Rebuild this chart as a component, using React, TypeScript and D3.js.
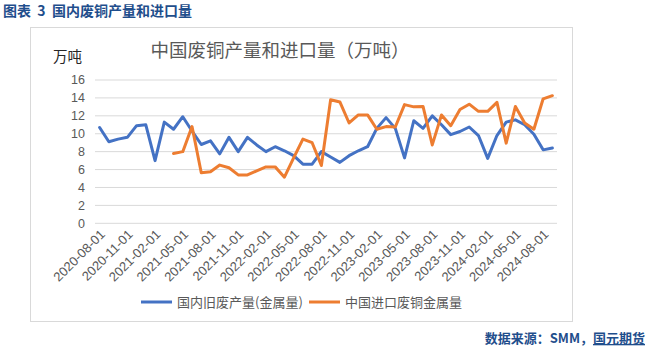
import React from "react";
import * as d3 from "d3";

const categories: string[] = (() => {
  const out: string[] = [];
  for (let i = 0; i < 50; i++) {
    const m = 7 + i; // 2020-08 start (0-based month 7)
    const y = 2020 + Math.floor(m / 12);
    const mm = (m % 12) + 1;
    out.push(`${y}-${String(mm).padStart(2, "0")}-01`);
  }
  return out;
})();

const domesticScrap: (number | null)[] = [
  10.7, 9.1, 9.4, 9.6, 10.9, 11.0, 7.0, 11.3, 10.5, 11.9,
  10.3, 8.8, 9.2, 7.75, 9.6, 8.0, 9.6, 8.75, 8.0, 8.55,
  8.1, 7.55, 6.6, 6.6, 8.0, 7.4, 6.8, 7.55, 8.1, 8.55,
  10.6, 11.8, 10.6, 7.3, 11.45, 10.6, 12.0, 11.0, 9.9, 10.25,
  10.75, 9.8, 7.25, 9.8, 11.3, 11.55, 11.0, 9.95, 8.2, 8.4,
];

const importedScrap: (number | null)[] = [
  null, null, null, null, null, null, null, null, 7.8, 8.0,
  10.8, 5.65, 5.75, 6.5, 6.2, 5.4, 5.4, 5.85, 6.3, 6.3,
  5.15, 7.3, 9.4, 9.0, 6.45, 13.8, 13.55, 11.2, 12.1, 12.1,
  10.5, 10.8, 10.75, 13.25, 13.0, 13.05, 8.75, 12.1, 10.9, 12.7,
  13.3, 12.5, 12.5, 13.5, 8.95, 13.05, 11.2, 10.5, 13.9, 14.25,
];

const yTicks = [0, 2, 4, 6, 8, 10, 12, 14, 16];
const seriesNames = ["国内旧废产量(金属量)", "中国进口废铜金属量"];
const seriesColors = ["#4472C4", "#ED7D31"];

const W = 648;
const H = 352;
const plotLeft = 95;
const plotRight = 557;
const plotTop = 80;
const plotBottom = 223.3;

export default function App() {
  const x = d3
    .scaleBand<string>()
    .domain(categories)
    .range([plotLeft, plotRight]);
  const y = d3.scaleLinear().domain([0, 16]).range([plotBottom, plotTop]);
  const cx = (c: string) => (x(c) ?? 0) + x.bandwidth() / 2;

  const line = d3
    .line<number | null>()
    .defined((d) => d != null)
    .x((_, i) => cx(categories[i]))
    .y((d) => y(d as number));

  const cjk = "'Noto Sans CJK SC', 'Noto Sans', sans-serif";
  const labelIdx = categories.map((_, i) => i).filter((i) => i % 3 === 0);

  return (
    <svg
      width={W}
      height={H}
      style={{ position: "absolute", left: 0, top: 0, background: "#fff" }}
    >
      {/* page title */}
      <text
        x={3}
        y={16}
        fontFamily={cjk}
        fontSize={14}
        fontWeight={700}
        fill="#1F4E8C"
        style={{ whiteSpace: "pre" }}
      >
        {"图表  3  国内废铜产量和进口量"}
      </text>

      {/* chart frame */}
      <rect
        x={30.5}
        y={27.5}
        width={542}
        height={294}
        fill="none"
        stroke="#D9D9D9"
        strokeWidth={1}
      />

      {/* chart title */}
      <text
        x={280}
        y={57}
        textAnchor="middle"
        fontFamily={cjk}
        fontSize={18.5}
        fill="#595959"
      >
        中国废铜产量和进口量（万吨）
      </text>

      {/* unit */}
      <text x={53} y={62} fontFamily={cjk} fontSize={14.5} fill="#262626">
        万吨
      </text>

      {/* gridlines + y labels */}
      {yTicks.map((t) => (
        <g key={t}>
          <line
            x1={plotLeft}
            x2={plotRight}
            y1={y(t)}
            y2={y(t)}
            stroke="#D9D9D9"
            strokeWidth={1}
          />
          <text
            x={85}
            y={y(t)}
            dy="0.35em"
            textAnchor="end"
            fontFamily="'Liberation Sans', Arial, sans-serif"
            fontSize={12.5}
            fill="#595959"
          >
            {t}
          </text>
        </g>
      ))}

      {/* x labels */}
      {labelIdx.map((i) => {
        const px = cx(categories[i]) + 3;
        const py = 232;
        return (
          <text
            key={i}
            transform={`translate(${px},${py}) rotate(-45)`}
            textAnchor="end"
            dy="0.35em"
            fontFamily="'Liberation Sans', Arial, sans-serif"
            fontSize={13}
            fill="#595959"
          >
            {categories[i]}
          </text>
        );
      })}

      {/* series */}
      {[domesticScrap, importedScrap].map((s, k) => (
        <path
          key={k}
          d={line(s) ?? ""}
          fill="none"
          stroke={seriesColors[k]}
          strokeWidth={3}
          strokeLinejoin="round"
          strokeLinecap="round"
        />
      ))}

      {/* legend */}
      <line x1={141} x2={172} y1={302} y2={302} stroke={seriesColors[0]} strokeWidth={3} />
      <text x={177} y={302} dy="0.35em" fontFamily={cjk} fontSize={13} fill="#595959">
        {seriesNames[0]}
      </text>
      <line x1={309} x2={340} y1={302} y2={302} stroke={seriesColors[1]} strokeWidth={3} />
      <text x={345} y={302} dy="0.35em" fontFamily={cjk} fontSize={13} fill="#595959">
        {seriesNames[1]}
      </text>

      {/* source */}
      <text
        x={645}
        y={343}
        textAnchor="end"
        fontFamily={cjk}
        fontSize={13}
        fontWeight={700}
        fill="#1F4E8C"
      >
        数据来源：SMM，<tspan style={{ textDecoration: "underline" }}>国元期货</tspan>
      </text>
    </svg>
  );
}
